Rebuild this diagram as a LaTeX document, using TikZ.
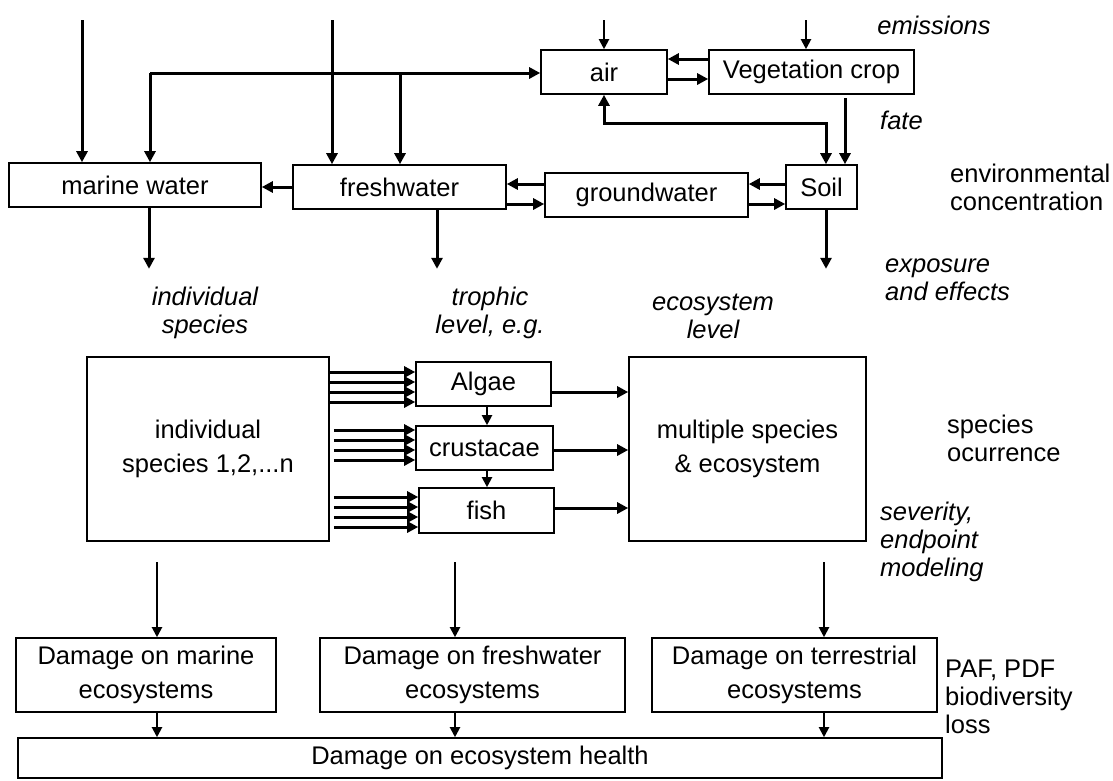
\documentclass[tikz,border=0pt]{standalone}
\usepackage{fontspec}
\setmainfont{Liberation Sans}
\usetikzlibrary{arrows.meta}

\begin{document}
\begin{tikzpicture}[x=1pt,y=-1pt,
  box/.style={draw,line width=1.6pt,inner sep=0pt,align=center,font=\fontsize{25.5}{34}\selectfont},
  lbl/.style={inner sep=0pt,align=left,anchor=west,font=\fontsize{25.5}{28}\selectfont},
  ilbl/.style={lbl,font=\fontsize{25.5}{28}\selectfont\itshape},
  clbl/.style={ilbl,align=center,anchor=center},
  flow/.style={line width=3pt,-{Triangle[length=11pt,width=11pt]}},
  biflow/.style={line width=3pt,{Triangle[length=11pt,width=11pt]}-{Triangle[length=11pt,width=11pt]}},
  thinflow/.style={line width=2pt,-{Triangle[length=10pt,width=10pt]}}]
\useasboundingbox (0,0) rectangle (1113,780);
% Draw the compartment boxes
\node[box,minimum width=126pt,minimum height=44pt] (air) at (604,72) {air};
\node[box,minimum width=205pt,minimum height=44pt] (veg) at (811.5,72) {Vegetation crop};
\node[box,minimum width=252pt,minimum height=44pt] (marine) at (135,185) {marine water};
\node[box,minimum width=213pt,minimum height=44pt] (fresh) at (399.5,187) {freshwater};
\node[box,minimum width=203pt,minimum height=44pt] (ground) at (646.5,195) {groundwater};
\node[box,minimum width=71pt,minimum height=44pt] (soil) at (821.5,187) {Soil};
% Draw the effect boxes
\node[box,minimum width=242pt,minimum height=184pt] (indiv) at (208,449) {individual\\species 1,2,...n};
\node[box,minimum width=135pt,minimum height=44pt] (algae) at (483.5,384) {Algae};
\node[box,minimum width=137pt,minimum height=44pt] (crust) at (484.5,448) {crustacae};
\node[box,minimum width=135pt,minimum height=45pt] (fish) at (486.5,510.5) {fish};
\node[box,minimum width=237pt,minimum height=184pt] (multi) at (747.5,449) {multiple species\\\& ecosystem};
% Draw the damage boxes
\node[box,minimum width=260pt,minimum height=74pt] (dmar) at (146,675) {Damage on marine\\ecosystems};
\node[box,minimum width=305pt,minimum height=74pt] (dfresh) at (472.5,675) {Damage on freshwater\\ecosystems};
\node[box,minimum width=285pt,minimum height=74pt] (dterr) at (794.5,675) {Damage on terrestrial\\ecosystems};
\node[box,minimum width=924pt,minimum height=40pt] (health) at (480,758) {Damage on ecosystem health};
% Add labels on the right and over the columns
\node[clbl] (emis) at (934,25) {emissions};
\node[ilbl] (fate) at (880,120) {fate};
\node[lbl] (conc) at (950,187) {environmental\\concentration};
\node[ilbl] (expo) at (885,280) {exposure\\and effects};
\node[clbl] (lind) at (205,313) {individual\\species};
\node[clbl] (ltro) at (490,313) {trophic\\level, e.g.};
\node[clbl] (leco) at (713,316) {ecosystem\\level};
\node[lbl] (occ) at (947,438) {species\\ocurrence};
\node[ilbl] (sev) at (880,542) {severity,\\endpoint\\modeling};
\node[lbl] (paf) at (945,697) {PAF, PDF\\biodiversity\\loss};
% Draw the emission arrows
\coordinate (em1) at (82,20);
\coordinate (em2) at (332,20);
\coordinate (em3) at (604,20);
\coordinate (em4) at (806,20);
\draw[flow] (em1) -- (em1 |- marine.north);
\draw[flow] (em2) -- (em2 |- fresh.north);
\draw[thinflow] (em3) -- (em3 |- air.north);
\draw[thinflow] (em4) -- (em4 |- veg.north);
% Draw the fate arrows
\coordinate (dep1) at (150,73);
\coordinate (dep2) at (400,73);
\draw[flow] (dep1) -- (air.west |- dep1);
\draw[flow] (dep1) -- (dep1 |- marine.north);
\draw[flow] (dep2) -- (dep2 |- fresh.north);
\draw[flow] (veg.west |- 0,59) -- (air.east |- 0,59);
\draw[flow] (air.east |- 0,79) -- (veg.west |- 0,79);
\draw[biflow] (air.south) -- ++(0,29) -| ([xshift=4.5pt]soil.north);
\coordinate (vs) at (845,98);
\draw[flow] (vs) -- (vs |- soil.north);
\coordinate (lvl1) at (0,184);
\coordinate (lvl2) at (0,204);
\draw[flow] (soil.west |- lvl1) -- (ground.east |- lvl1);
\draw[flow] (ground.east |- lvl2) -- (soil.west |- lvl2);
\draw[flow] (ground.west |- lvl1) -- (fresh.east |- lvl1);
\draw[flow] (fresh.east |- lvl2) -- (ground.west |- lvl2);
\draw[flow] (fresh.west) -- (marine.east |- fresh.west);
% Draw the exposure arrows
\draw[flow] ([xshift=14pt]marine.south) -- ++(0,61);
\draw[flow] ([xshift=37.5pt]fresh.south) -- ++(0,59);
\draw[flow] ([xshift=4.5pt]soil.south) -- ++(0,59);
% Draw the species arrows
\foreach \y in {372,382,392,402} \draw[flow] (indiv.east |- 0,\y) -- (algae.west |- 0,\y);
\foreach \y in {430,440,450,460} \draw[flow] ([xshift=4pt]indiv.east |- 0,\y) -- (crust.west |- 0,\y);
\foreach \y in {497,507,517,527} \draw[flow] ([xshift=4pt]indiv.east |- 0,\y) -- (fish.west |- 0,\y);
\draw[thinflow] (algae.south -| 487,0) -- (crust.north -| 487,0);
\draw[thinflow] (crust.south -| 487,0) -- (fish.north -| 487,0);
\draw[flow] (algae.east |- 0,392) -- (multi.west |- 0,392);
\draw[flow] (crust.east |- 0,450) -- (multi.west |- 0,450);
\draw[flow] (fish.east |- 0,508) -- (multi.west |- 0,508);
% Draw the damage arrows
\coordinate (dm1) at (157,562);
\coordinate (dm2) at (455,562);
\coordinate (dm3) at (824,562);
\draw[thinflow] (dm1) -- (dm1 |- dmar.north);
\draw[thinflow] (dm2) -- (dm2 |- dfresh.north);
\draw[thinflow] (dm3) -- (dm3 |- dterr.north);
\draw[thinflow] (dmar.south -| dm1) -- (health.north -| dm1);
\draw[thinflow] (dfresh.south -| dm2) -- (health.north -| dm2);
\draw[thinflow] (dterr.south -| dm3) -- (health.north -| dm3);
\end{tikzpicture}
\end{document}
